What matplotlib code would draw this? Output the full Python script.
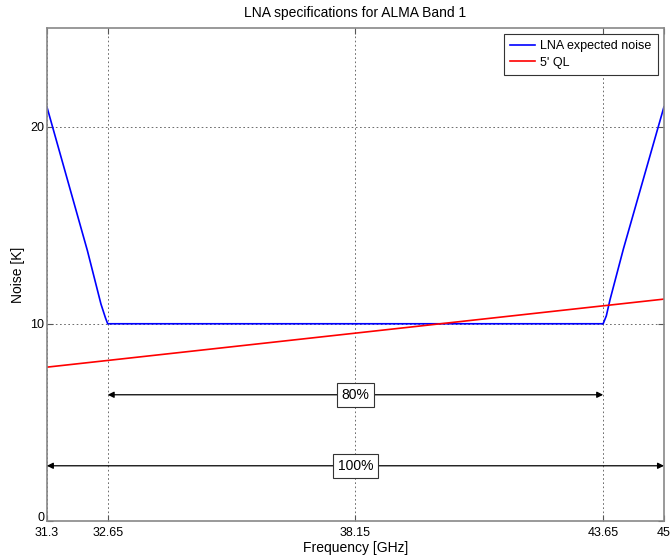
import numpy as np
import matplotlib.pyplot as plt
import matplotlib.transforms as mtransforms

plt.rcParams['font.family'] = ['Liberation Sans', 'DejaVu Sans']

# LNA expected noise (K) vs frequency (GHz)
lna_freq = [31.3, 32.2, 32.5, 32.6, 32.65, 43.65, 43.72, 43.8, 44.1, 45.0]
lna_noise = [21.0, 13.7, 11.0, 10.3, 10.0, 10.0, 10.4, 11.2, 13.8, 21.0]

# 5' QL line
ql_freq = [31.3, 45.0]
ql_noise = [7.8, 11.25]

xticks = [31.3, 32.65, 38.15, 43.65, 45]
xtick_labels = ['31.3', '32.65', '38.15', '43.65', '45']
yticks = [0, 10, 20]

# bandwidth markers: start, end, height, label
bands = [(32.65, 43.65, 6.4, '80%'),
         (31.3, 45.0, 2.8, '100%')]

fig = plt.figure(figsize=(6.7, 5.58), dpi=100)
ax = fig.add_axes([0.070, 0.0663, 0.921, 0.8837])

ax.plot(lna_freq, lna_noise, color='#0000ff', lw=1.2, label='LNA expected noise')
ax.plot(ql_freq, ql_noise, color='#ff0000', lw=1.2, label="5' QL")

for x0, x1, y, txt in bands:
    ax.annotate('', xy=(x0, y), xytext=(x1, y),
                arrowprops=dict(arrowstyle='<|-|>', color='black', lw=0.9,
                                mutation_scale=9, shrinkA=0, shrinkB=0))
    ax.text(38.15, y, txt, ha='center', va='center', fontsize=10,
            bbox=dict(boxstyle='square,pad=0.35', fc='white', ec='#333333', lw=0.8))

ax.set_xlim(31.3, 45)
ax.set_ylim(0, 25)
ax.set_xticks(xticks)
ax.set_xticklabels(xtick_labels)
ax.set_yticks(yticks)
ax.grid(True, color='#555555', linestyle=(0, (2, 3)), lw=0.6)
ax.set_axisbelow(True)
ax.tick_params(direction='in', length=4, labelsize=9, top=True, right=True, color='#555555')
ax.tick_params(axis='x', pad=4)
ax.tick_params(axis='y', pad=2)
for s in ax.spines.values():
    s.set_color('#888888')
    s.set_linewidth(1.2)

# lift the "0" label a little so it sits above the 31.3 label
zero_lbl = ax.get_yticklabels()[0]
zero_lbl.set_transform(zero_lbl.get_transform() +
                       mtransforms.ScaledTranslation(0, 3 / 72, fig.dpi_scale_trans))

ax.set_xlabel('Frequency [GHz]', fontsize=10, labelpad=2)
ax.set_ylabel('Noise [K]', fontsize=10, labelpad=4)
ax.set_title('LNA specifications for ALMA Band 1', fontsize=10, pad=8)

leg = ax.legend(loc='upper right', fontsize=9, fancybox=False, framealpha=1,
                edgecolor='#333333', handlelength=2.0, borderpad=0.5,
                labelspacing=0.35, handletextpad=0.4, borderaxespad=0.5)
leg.get_frame().set_linewidth(0.8)

fig.savefig('out.png', dpi=100)
